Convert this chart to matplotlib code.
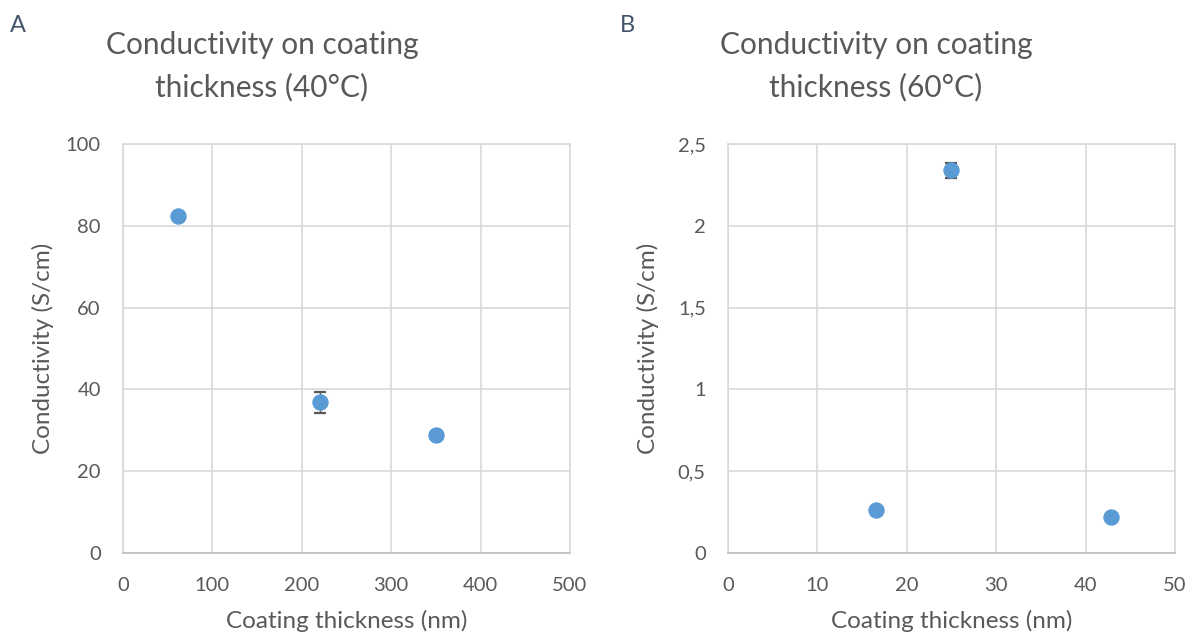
"""Conductivity vs coating thickness at 40 °C and 60 °C."""

import matplotlib.pyplot as plt
from matplotlib.ticker import FuncFormatter

# 40 °C series
thick_40 = [62, 220, 350]
cond_40 = [82.3, 36.8, 28.8]
err_40 = [0.0, 2.5, 0.0]

# 60 °C series
thick_60 = [16.5, 24.9, 42.8]
cond_60 = [0.265, 2.34, 0.22]
err_60 = [0.0, 0.045, 0.0]

TEXT = "#595959"
GRID = "#d9d9d9"
BLUE = "#5b9bd5"
W, H = 1193, 636

plt.rcParams["font.family"] = ["Lato", "DejaVu Sans"]

fig = plt.figure(figsize=(W / 100, H / 100), dpi=100)
ax1 = fig.add_axes([123 / W, 83 / H, 447 / W, 409 / H])
ax2 = fig.add_axes([728 / W, 83 / H, 447 / W, 409 / H])


def comma(v, _):
    return f"{v:g}".replace(".", ",")


def style(ax, xmax, ymax, xstep, ystep):
    ax.set_xlim(0, xmax)
    ax.set_ylim(0, ymax)
    ax.set_xticks([i * xstep for i in range(int(round(xmax / xstep)) + 1)])
    ax.set_yticks([i * ystep for i in range(int(round(ymax / ystep)) + 1)])
    ax.grid(True, color=GRID, lw=1.2)
    ax.set_axisbelow(True)
    for s in ax.spines.values():
        s.set_color(GRID)
        s.set_linewidth(1.2)
    ax.spines["bottom"].set_color("#bfbfbf")
    ax.tick_params(length=0, labelsize=14.5, colors=TEXT)
    ax.tick_params(axis="x", pad=17)
    ax.tick_params(axis="y", pad=16)
    ax.xaxis.set_major_formatter(FuncFormatter(comma))
    ax.yaxis.set_major_formatter(FuncFormatter(comma))
    ax.set_xlabel("Coating thickness (nm)", fontsize=17.5, color=TEXT)
    ax.set_ylabel("Conductivity (S/cm)", fontsize=17.5, color=TEXT)
    ax.xaxis.set_label_coords(0.5, (553 - 610) / 409)
    ax.yaxis.set_label_coords(-80 / 447, 0.5)
    ax.yaxis.label.set_verticalalignment("center")


for ax, x, y, e in [(ax1, thick_40, cond_40, err_40), (ax2, thick_60, cond_60, err_60)]:
    ax.errorbar(x, y, yerr=e, fmt="none", ecolor="#595959", elinewidth=1.0,
                capsize=4.3, capthick=1.6, zorder=2)
    ax.plot(x, y, "o", color=BLUE, ms=10.8, mec=BLUE, zorder=3)

style(ax1, 500, 100, 100, 20)
style(ax2, 50, 2.5, 10, 0.5)

for cx, temp in [(262, "40°C"), (876, "60°C")]:
    fig.text(cx / W, 1 - 45 / H, "Conductivity on coating",
             ha="center", va="center", fontsize=21.5, color=TEXT)
    fig.text(cx / W, 1 - 87 / H, f"thickness ({temp})",
             ha="center", va="center", fontsize=21.5, color=TEXT)

fig.text(10 / W, 1 - 26 / H, "A", fontsize=17, color="#44546a", va="center")
fig.text(620 / W, 1 - 26 / H, "B", fontsize=17, color="#44546a", va="center")

fig.savefig("out.png", dpi=100)
